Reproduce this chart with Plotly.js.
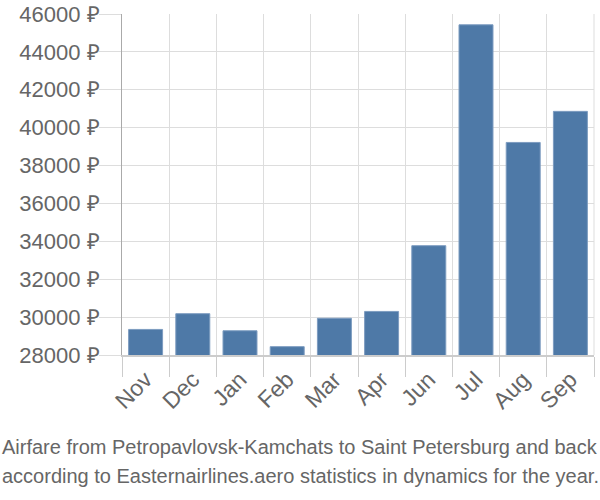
<!DOCTYPE html>
<html>
<head>
<meta charset="utf-8">
<script src="https://cdn.plot.ly/plotly-3.0.1.min.js"></script>
<style>html,body{margin:0;padding:0;background:#fff;}#chart{width:600px;height:500px;}</style>
</head>
<body>
<div id="chart"></div>
<script>
const months = ["Nov","Dec","Jan","Feb","Mar","Apr","Jun","Jul","Aug","Sep"];
const prices = [29350, 30180, 29280, 28440, 29940, 30300, 33770, 45430, 39220, 40860];
const yTicks = [28000,30000,32000,34000,36000,38000,40000,42000,44000,46000];
const titleLines = ["Airfare from Petropavlovsk-Kamchats to Saint Petersburg and back",
                    "according to Easternairlines.aero statistics in dynamics for the year."];

const trace = {
  type: "bar",
  x: months,
  y: prices,
  marker: {color: "#4e79a7", line: {color: "#7d9cc0", width: 1}},
  hoverinfo: "none"
};

const layout = {
  width: 600, height: 500,
  margin: {l: 122, r: 6, t: 14, b: 145, autoexpand: false},
  paper_bgcolor: "#fff", plot_bgcolor: "#fff",
  font: {family: "Liberation Sans", color: "#666", size: 22},
  bargap: 0.28,
  showlegend: false,
  xaxis: {
    type: "category",
    tickson: "boundaries",
    ticks: "outside", ticklen: 20, tickcolor: "#ccc", tickwidth: 1,
    showgrid: true, gridcolor: "#ddd", gridwidth: 1,
    showline: true, linecolor: "#ccc", linewidth: 2,
    tickangle: -45,
    automargin: false,
    tickfont: {family: "Liberation Sans", size: 23, color: "#666"},
    fixedrange: true
  },
  yaxis: {
    range: [28000, 46000],
    tickvals: yTicks,
    ticktext: yTicks.map(v => v + " ₽"),
    ticks: "outside", ticklen: 22, tickcolor: "#ddd", tickwidth: 1,
    ticklabelstandoff: -5,
    showgrid: true, gridcolor: "#ddd", gridwidth: 1,
    showline: true, linecolor: "#aaa", linewidth: 1,
    zeroline: false,
    automargin: false,
    tickfont: {family: "Liberation Sans", size: 22, color: "#666"},
    fixedrange: true
  },
  shapes: [{type: "line", xref: "paper", yref: "paper", x0: 1, x1: 1, y0: 0, y1: 1, line: {color: "#ddd", width: 1}}],
  annotations: titleLines.map((t, i) => ({
    xref: "paper", yref: "paper", x: 0.5, xanchor: "center",
    y: 0, yshift: -92 - 29 * i, yanchor: "middle",
    showarrow: false,
    text: t,
    font: {size: 20, color: "#666", family: "Liberation Sans"},
    xshift: -58
  }))
};

Plotly.newPlot("chart", [trace], layout, {displayModeBar: false, staticPlot: true});
</script>
</body>
</html>
